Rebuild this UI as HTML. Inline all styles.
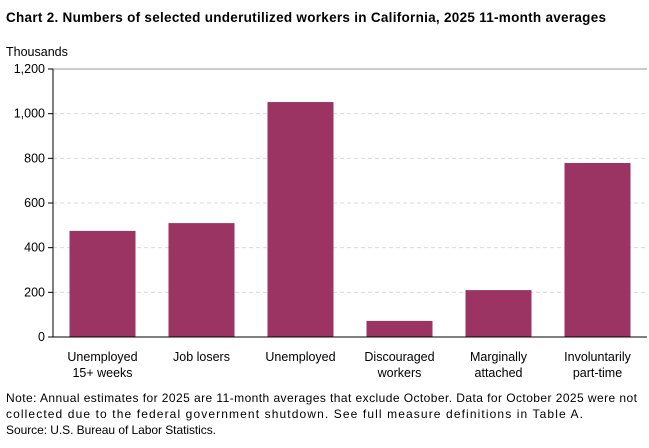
<!DOCTYPE html>
<html><head><meta charset="utf-8"><style>
body{margin:0;background:#fff;width:649px;height:443px;overflow:hidden;font-family:"Liberation Sans",sans-serif;}
svg text{font-family:"Liberation Sans",sans-serif;}
</style></head><body>
<svg id="chart" width="649" height="443" xmlns="http://www.w3.org/2000/svg">
<text x="6" y="22" font-size="13.5" font-weight="bold" fill="#000" textLength="600" lengthAdjust="spacing">Chart 2. Numbers of selected underutilized workers in California, 2025 11-month averages</text>
<text x="6" y="56" font-size="12.5" fill="#000">Thousands</text>
<g id="grid"></g><g id="bars"></g><g id="axes"></g>
<text x="6" y="402" font-size="12" fill="#000" textLength="631" lengthAdjust="spacing">Note:  Annual estimates for 2025 are 11-month averages that exclude October. Data for October 2025 were not</text>
<text x="6" y="418" font-size="12" fill="#000" textLength="577" lengthAdjust="spacing">collected due to the federal government shutdown. See full measure definitions in Table A.</text>
<text x="6" y="434" font-size="12" fill="#000" textLength="210" lengthAdjust="spacing">Source: U.S. Bureau of Labor Statistics.</text>
</svg>
<script>
const categories=[["Unemployed","15+ weeks"],["Job losers"],["Unemployed"],["Discouraged","workers"],["Marginally","attached"],["Involuntarily","part-time"]];
const values=[475,510,1052,72,210,779];
const ticks=[0,200,400,600,800,1000,1200];
const tickLabels=["0","200","400","600","800","1,000","1,200"];
const NS="http://www.w3.org/2000/svg";
const x0=53,x1=647,y0=337,y1=69,ymax=1200;
const yS=v=>y0-(v/ymax)*(y0-y1);
const bw=(x1-x0)/categories.length;
const xC=i=>x0+bw*(i+0.5);
function mk(t,a,p){const e=document.createElementNS(NS,t);for(const k in a)e.setAttribute(k,a[k]);p.appendChild(e);return e;}
const grid=document.getElementById('grid'),bars=document.getElementById('bars'),axes=document.getElementById('axes');
ticks.forEach((t,i)=>{
 if(t>0){const g=mk('line',{x1:x0,x2:x1,y1:yS(t),y2:yS(t),stroke:t===ymax?'#999':'#d9d9d9','stroke-dasharray':t===ymax?'':'4,3'},grid);
 
 }
 const tk=mk('line',{x1:x0-5,x2:x0,y1:yS(t),y2:yS(t),stroke:'#000'},axes);
 
 
 const l=mk('text',{x:x0-8,y:yS(t)+4,'text-anchor':'end','font-size':'12.5',fill:'#000'},axes);
 l.textContent=tickLabels[i];
 
 
});
values.forEach((v,i)=>{
 const r=mk('rect',{x:xC(i)-33,y:yS(v),width:66,height:y0-yS(v),fill:'#9b3363'},bars);
 
 
 categories[i].forEach((s,j)=>{
  const t=mk('text',{x:xC(i),y:361+j*16,'text-anchor':'middle','font-size':'12.5',fill:'#000'},axes);
  t.textContent=s;
  
  
 });
});
const ya=mk('line',{x1:x0,x2:x0,y1:y1,y2:y0,stroke:'#000'},axes);


const xa=mk('line',{x1:x0,x2:x1,y1:y0,y2:y0,stroke:'#000'},axes);


</script>
</body></html>
